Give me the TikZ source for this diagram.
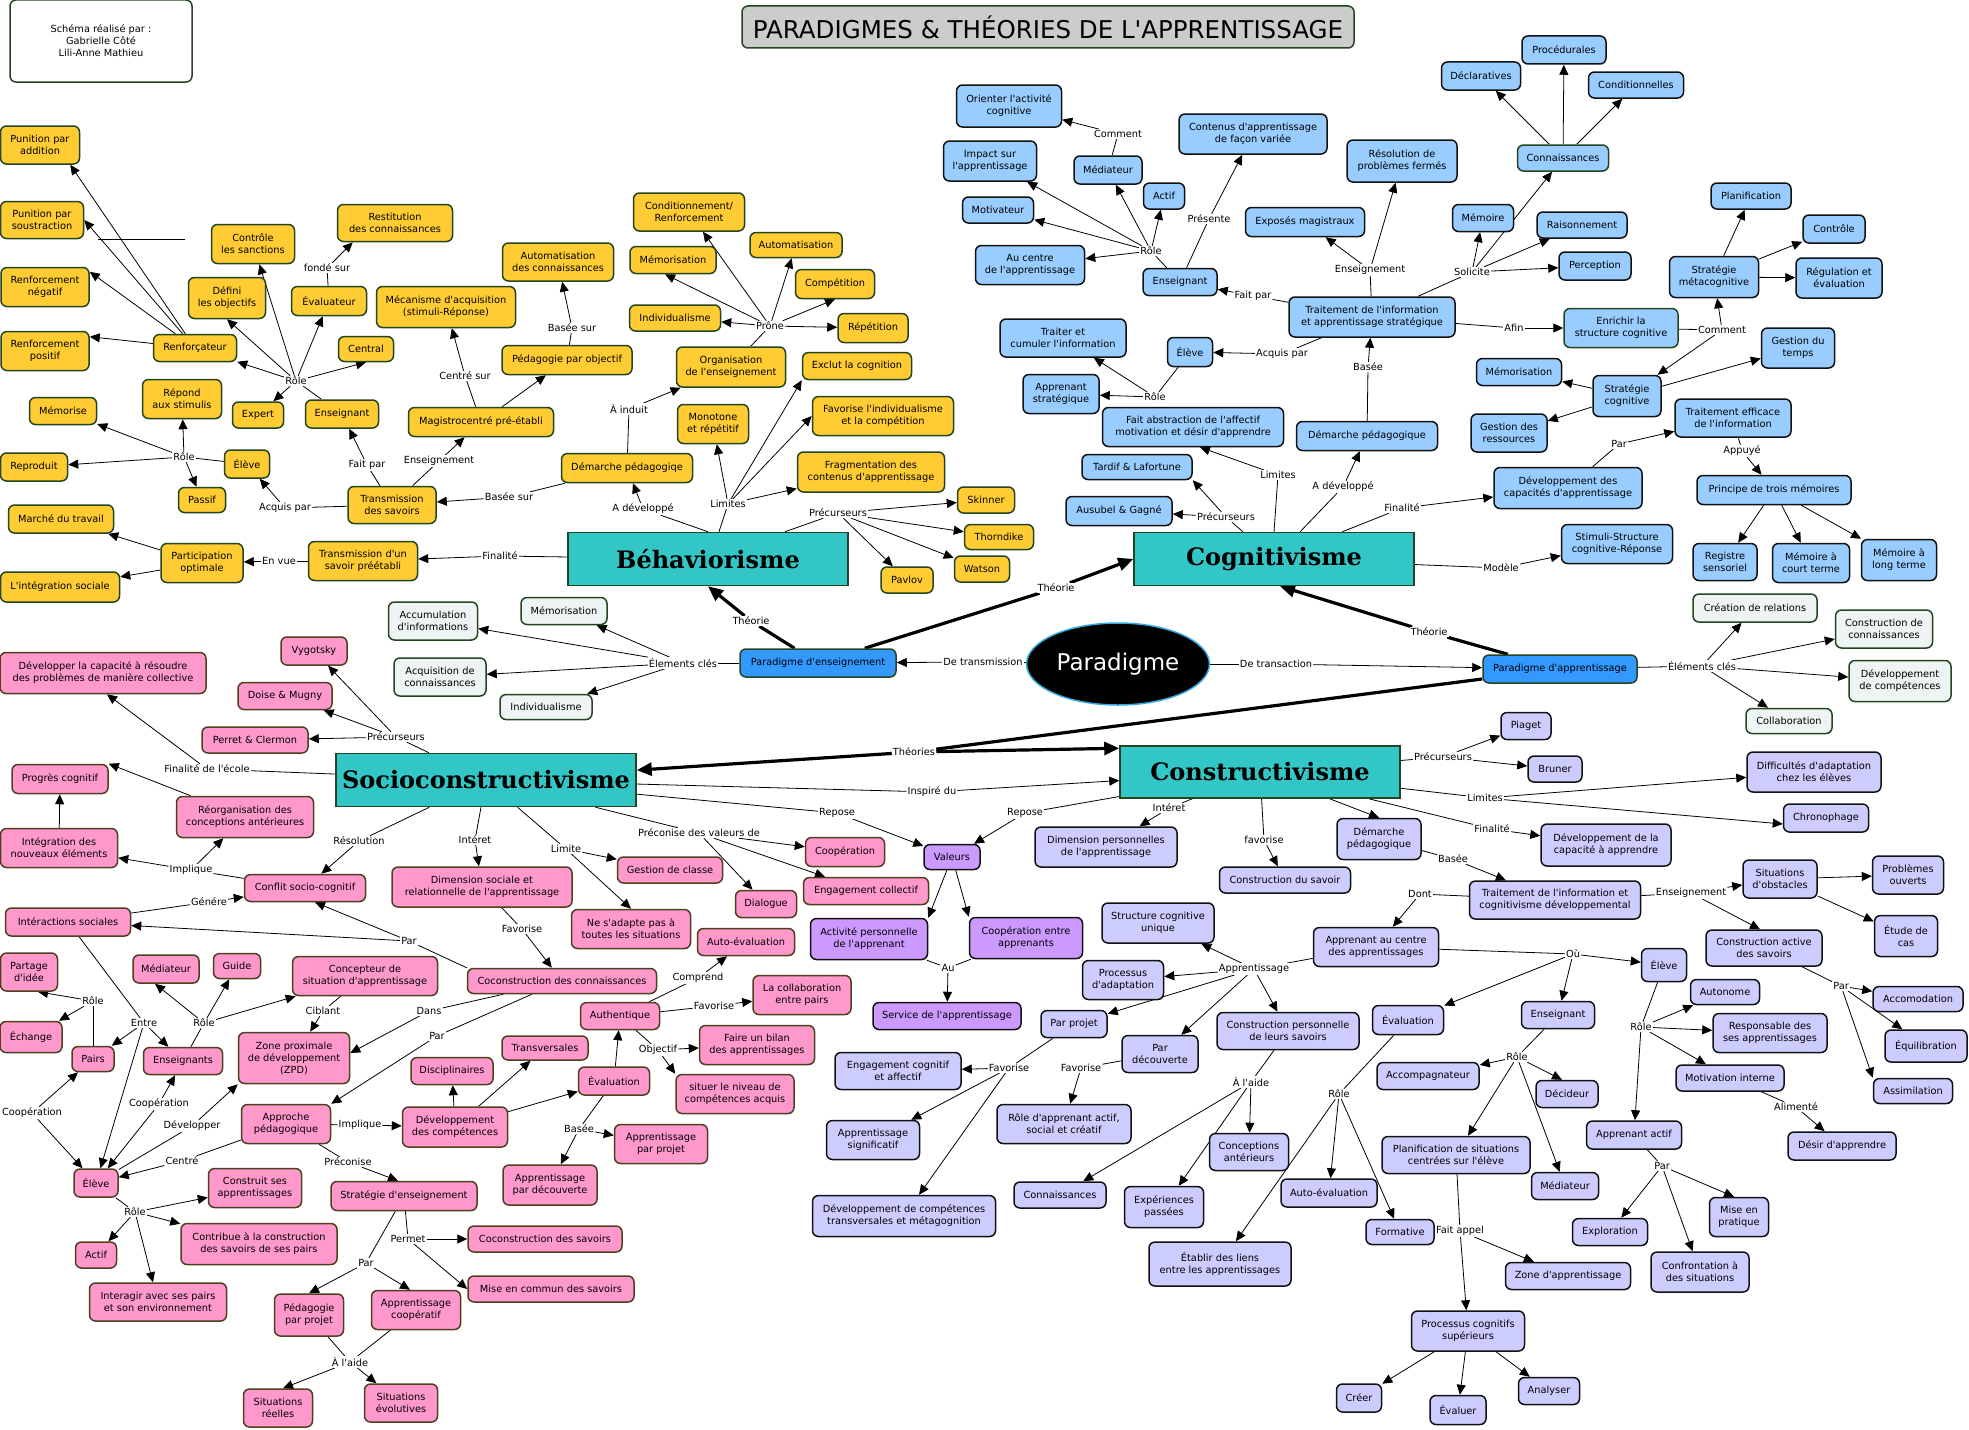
\documentclass[tikz,border=0pt]{standalone}
\usepackage{fontspec}
\usetikzlibrary{arrows.meta,shapes.geometric}
\newfontfamily\vf{DejaVu Sans}
\newfontfamily\hvy{DejaVu Serif}
\newcommand\nodefont{\vf\fontsize{9.8}{12}\selectfont}
\newcommand\bigtfont{\hvy\bfseries\fontsize{24}{27}\selectfont}
\newcommand\myL[2]{\draw[ln] (#1) -- (#2);}
\newcommand\myA[2]{\draw[ar] (#1) -- (#2);}
\pgfdeclarelayer{bglayer}
\pgfdeclarelayer{edgelayer}
\pgfsetlayers{bglayer,edgelayer,main}
\definecolor{yel}{HTML}{FFCC33}
\definecolor{blu}{HTML}{99CCFF}
\definecolor{pnk}{HTML}{FF99CC}
\definecolor{lav}{HTML}{CCCCFF}
\definecolor{pur}{HTML}{CC99FF}
\definecolor{keyc}{HTML}{EEF4F4}
\definecolor{tealc}{HTML}{33C6C6}
\definecolor{dg}{HTML}{234520}
\definecolor{brn}{HTML}{4F3F1F}
\definecolor{nb}{HTML}{111111}
\definecolor{pblue}{HTML}{3399FF}
\definecolor{ttlgray}{HTML}{CCCCCC}
\definecolor{cyanb}{HTML}{33AADD}
\tikzset{
 base/.style={draw, rounded corners=6pt, line width=1.5pt, align=center, inner xsep=3pt, inner ysep=2pt, font=\nodefont},
 Y/.style={base, fill=yel, draw=dg},
 B/.style={base, fill=blu, draw=nb},
 BG/.style={base, fill=blu, draw=dg},
 P/.style={base, fill=pnk, draw=brn},
 L/.style={base, fill=lav, draw=nb},
 V/.style={base, fill=pur, draw=nb},
 K/.style={base, fill=keyc, draw=dg},
 T/.style={draw=dg, fill=tealc, line width=1.5pt, font=\bigtfont, inner sep=0pt},
 PB/.style={base, fill=pblue, draw=dg},
 lb/.style={fill=white, inner sep=1pt, font=\nodefont},
 sz/.style 2 args={minimum width=#1pt, minimum height=#2pt},
 ln/.style={line width=0.8pt, draw=black},
 ar/.style={ln, -{Triangle[length=10pt,width=9pt]}},
 thk/.style={line width=3.2pt, draw=black},
 tar/.style={thk, -{Triangle[length=15pt,width=13pt]}},
}
\begin{document}
\begin{tikzpicture}[x=1pt,y=-1pt]
\useasboundingbox (0,0) rectangle (1969,1429);
\begin{pgfonlayer}{bglayer}
\fill[white] (0,0) rectangle (1969,1429);
\end{pgfonlayer}

% ---------- header
\node[draw=dg, fill=white, rounded corners=6pt, line width=1.5pt, sz={182}{82}, align=center, font=\nodefont] (credit) at (101,41) {Schéma réalisé par :\\Gabrielle Côté\\Lili-Anne Mathieu};
\node[draw=dg, fill=ttlgray, rounded corners=6pt, line width=1.5pt, sz={612}{42}, font=\vf\fontsize{24.5}{28}\selectfont] (title) at (1048,27) {PARADIGMES \& THÉORIES DE L'APPRENTISSAGE};

% ---------- Behaviorisme nodes
\node[Y,sz={79}{38}] (pad) at (40,145) {Punition par\\addition};
\node[Y,sz={83}{37}] (pso) at (42,220) {Punition par\\soustraction};
\node[Y,sz={88}{39}] (rneg) at (45,287) {Renforcement\\négatif};
\node[Y,sz={88}{39}] (rpos) at (45,351) {Renforcement\\positif};
\node[Y,sz={83}{27}] (renf) at (195,348) {Renforçateur};
\node[Y,sz={83}{39}] (ctrl) at (253,244) {Contrôle\\les sanctions};
\node[Y,sz={115}{37}] (rest) at (395,223) {Restitution\\des connaissances};
\node[Y,sz={77}{41}] (defi) at (227,298) {Défini\\les objectifs};
\node[Y,sz={75}{29}] (evalu) at (329,301) {Évaluateur};
\node[Y,sz={139}{41}] (meca) at (446,307) {Mécanisme d'acquisition\\(stimuli-Réponse)};
\node[Y,sz={55}{25}] (central) at (366,349) {Central};
\node[Y,sz={51}{26}] (expert) at (258,415) {Expert};
\node[Y,sz={73}{28}] (bens) at (342,414) {Enseignant};
\node[Y,sz={79}{39}] (repond) at (182,399) {Répond\\aux stimulis};
\node[Y,sz={67}{27}] (memor) at (63,411) {Mémorise};
\node[Y,sz={45}{28}] (belv) at (247,464) {Élève};
\node[Y,sz={67}{28}] (repro) at (34,467) {Reproduit};
\node[Y,sz={145}{29}] (magi) at (481,422) {Magistrocentré pré-établi};
\node[Y,sz={111}{38}] (cond) at (689,212) {Conditionnement/\\Renforcement};
\node[Y,sz={92}{25}] (auto) at (796,245) {Automatisation};
\node[Y,sz={86}{27}] (bmem) at (673,260) {Mémorisation};
\node[Y,sz={79}{29}] (compe) at (835,284) {Compétition};
\node[Y,sz={91}{26}] (bind) at (675,318) {Individualisme};
\node[Y,sz={70}{29}] (repe) at (873,328) {Répétition};
\node[Y,sz={111}{38}] (autoc) at (558,262) {Automatisation\\des connaissances};
\node[Y,sz={130}{29}] (pedo) at (567,360) {Pédagogie par objectif};
\node[Y,sz={109}{40}] (orga) at (731,367) {Organisation\\de l'enseignement};
\node[Y,sz={109}{27}] (excl) at (857,366) {Exclut la cognition};
\node[Y,sz={71}{39}] (mono) at (713,424) {Monotone\\et répétitif};
\node[Y,sz={141}{39}] (favi) at (883,416) {Favorise l'individualisme\\et la compétition};
\node[Y,sz={131}{29}] (bdem) at (627,468) {Démarche pédagogiqe};
\node[Y,sz={147}{40}] (frag) at (871,472) {Fragmentation des\\contenus d'apprentissage};
\node[Y,sz={47}{25}] (passif) at (202,500) {Passif};
\node[Y,sz={88}{37}] (tsav) at (392,505) {Transmission\\des savoirs};
\node[Y,sz={105}{28}] (marche) at (61,519) {Marché du travail};
\node[Y,sz={82}{39}] (parti) at (202,563) {Participation\\optimale};
\node[Y,sz={109}{39}] (tpre) at (363,561) {Transmission d'un\\savoir préétabli};
\node[Y,sz={119}{30}] (integ) at (60,587) {L'intégration sociale};
\node[Y,sz={57}{26}] (skinner) at (986,500) {Skinner};
\node[Y,sz={69}{25}] (thorn) at (999,537) {Thorndike};
\node[Y,sz={55}{26}] (watson) at (982,569) {Watson};
\node[Y,sz={52}{26}] (pavlov) at (907,580) {Pavlov};

% ---------- key elements
\node[K,sz={89}{38}] (accu) at (433,621) {Accumulation\\d'informations};
\node[K,sz={92}{38}] (acqc) at (440,677) {Acquisition de\\connaissances};
\node[K,sz={86}{27}] (kmem) at (564,611) {Mémorisation};
\node[K,sz={92}{25}] (kind) at (546,707) {Individualisme};
\node[K,sz={124}{28}] (crea) at (1755,608) {Création de relations};
\node[K,sz={97}{38}] (ccon) at (1884,629) {Construction de\\connaissances};
\node[K,sz={102}{41}] (dcomp) at (1900,681) {Développement\\de compétences};
\node[K,sz={86}{25}] (collab) at (1789,721) {Collaboration};

% ---------- main boxes
\node[T,sz={280}{53}] (beh) at (708,559) {Béhaviorisme};
\node[T,sz={280}{53}] (cog) at (1274,559) {Cognitivisme};
\node[T,sz={300}{53}] (soc) at (486,780) {Socioconstructivisme};
\node[T,sz={280}{52}] (cons) at (1260,772) {Constructivisme};
\node[PB,sz={156}{28}] (pe) at (818,663) {Paradigme d'enseignement};
\node[PB,sz={154}{28}] (pa) at (1560,669) {Paradigme d'apprentissage};
\node[ellipse, fill=black, draw=cyanb, line width=1.5pt, minimum width=161pt, minimum height=82pt, text=white, font=\vf\fontsize{23}{26}\selectfont] (para) at (1118,664) {Paradigme};

% ---------- Cognitivisme nodes
\node[B,sz={105}{42}] (orient) at (1009,106) {Orienter l'activité\\cognitive};
\node[B,sz={93}{40}] (impact) at (990,161) {Impact sur\\l'apprentissage};
\node[B,sz={68}{28}] (cmed) at (1108,170) {Médiateur};
\node[B,sz={41}{26}] (cactif) at (1164,196) {Actif};
\node[B,sz={71}{26}] (motiv) at (998,210) {Motivateur};
\node[B,sz={109}{39}] (aucentre) at (1030,265) {Au centre\\de l'apprentissage};
\node[B,sz={148}{40}] (conten) at (1253,134) {Contenus d'apprentissage\\de façon variée};
\node[B,sz={74}{27}] (cens) at (1180,282) {Enseignant};
\node[B,sz={119}{29}] (expo) at (1305,222) {Exposés magistraux};
\node[B,sz={110}{42}] (reso) at (1402,161) {Résolution de\\problèmes fermés};
\node[B,sz={166}{40}] (trait) at (1372,317) {Traitement de l'information\\et apprentissage stratégique};
\node[B,sz={61}{27}] (memoire) at (1483,218) {Mémoire};
\node[B,sz={126}{38}] (traiter) at (1063,338) {Traiter et\\cumuler l'information};
\node[B,sz={45}{29}] (celv) at (1190,352) {Élève};
\node[B,sz={76}{39}] (appst) at (1061,394) {Apprenant\\stratégique};
\node[B,sz={181}{39}] (abst) at (1193,427) {Fait abstraction de l'affectif\\motivation et désir d'apprendre};
\node[B,sz={141}{29}] (cdem) at (1367,436) {Démarche pédagogique};
\node[B,sz={110}{25}] (tardif) at (1137,467) {Tardif \& Lafortune};
\node[B,sz={106}{29}] (ausu) at (1119,511) {Ausubel \& Gagné};
\node[B,sz={79}{28}] (decl) at (1481,76) {Déclaratives};
\node[B,sz={84}{28}] (proc) at (1564,50) {Procédurales};
\node[B,sz={95}{26}] (condi) at (1636,85) {Conditionnelles};
\node[BG,sz={91}{26}] (connais) at (1563,158) {Connaissances};
\node[B,sz={90}{26}] (raison) at (1582,225) {Raisonnement};
\node[B,sz={72}{28}] (percep) at (1595,266) {Perception};
\node[B,sz={80}{26}] (planif) at (1751,196) {Planification};
\node[B,sz={62}{28}] (controle) at (1834,229) {Contrôle};
\node[B,sz={89}{41}] (meta) at (1714,277) {Stratégie\\métacognitive};
\node[B,sz={86}{40}] (regul) at (1839,278) {Régulation et\\évaluation};
\node[BG,sz={114}{39}] (enrich) at (1621,328) {Enrichir la\\structure cognitive};
\node[B,sz={73}{40}] (gtemps) at (1798,348) {Gestion du\\temps};
\node[B,sz={85}{27}] (cmemo) at (1519,372) {Mémorisation};
\node[B,sz={68}{41}] (scog) at (1627,396) {Stratégie\\cognitive};
\node[B,sz={76}{38}] (gress) at (1509,433) {Gestion des\\ressources};
\node[B,sz={116}{38}] (teff) at (1733,418) {Traitement efficace\\de l'information};
\node[B,sz={148}{41}] (dcap) at (1568,488) {Développement des\\capacités d'apprentissage};
\node[B,sz={154}{29}] (princ) at (1774,490) {Principe de trois mémoires};
\node[B,sz={111}{39}] (stim) at (1617,544) {Stimuli-Structure\\cognitive-Réponse};
\node[B,sz={64}{37}] (regis) at (1725,562) {Registre\\sensoriel};
\node[B,sz={77}{39}] (mct) at (1811,563) {Mémoire à\\court terme};
\node[B,sz={75}{41}] (mlt) at (1899,560) {Mémoire à\\long terme};

% ---------- Socioconstructivisme nodes
\node[P,sz={66}{28}] (vygo) at (314,651) {Vygotsky};
\node[P,sz={206}{41}] (devcap) at (103,673) {Développer la capacité à résoudre\\des problèmes de manière collective};
\node[P,sz={94}{27}] (doise) at (285,696) {Doise \& Mugny};
\node[P,sz={106}{26}] (perret) at (255,740) {Perret \& Clermon};
\node[P,sz={96}{29}] (progres) at (60,779) {Progrès cognitif};
\node[P,sz={137}{41}] (reorg) at (245,817) {Réorganisation des\\conceptions antérieures};
\node[P,sz={117}{39}] (integn) at (59,848) {Intégration des\\nouveaux éléments};
\node[P,sz={121}{27}] (conflit) at (305,888) {Conflit socio-cognitif};
\node[P,sz={180}{40}] (dimsoc) at (482,887) {Dimension sociale et\\relationnelle de l'apprentissage};
\node[P,sz={125}{28}] (interac) at (68,922) {Intéractions sociales};
\node[P,sz={79}{29}] (scoop) at (845,852) {Coopération};
\node[P,sz={105}{26}] (gestc) at (670,870) {Gestion de classe};
\node[P,sz={125}{27}] (engc) at (866,891) {Engagement collectif};
\node[P,sz={61}{27}] (dialog) at (766,904) {Dialogue};
\node[P,sz={119}{39}] (nesad) at (631,929) {Ne s'adapte pas à\\toutes les situations};
\node[P,sz={97}{27}] (sautoe) at (746,942) {Auto-évaluation};
\node[P,sz={189}{25}] (coconn) at (562,981) {Coconstruction des connaissances};
\node[P,sz={57}{38}] (partage) at (29,972) {Partage\\d'idée};
\node[P,sz={66}{28}] (smed) at (166,969) {Médiateur};
\node[P,sz={47}{25}] (guide) at (237,966) {Guide};
\node[P,sz={145}{39}] (concep) at (365,976) {Concepteur de\\situation d'apprentissage};
\node[P,sz={62}{31}] (echange) at (31,1037) {Échange};
\node[P,sz={42}{25}] (pairs) at (93,1059) {Pairs};
\node[P,sz={79}{27}] (enseignants) at (183,1061) {Enseignants};
\node[P,sz={111}{51}] (zpd) at (294,1058) {Zone proximale\\de développement\\(ZPD)};
\node[P,sz={82}{27}] (discip) at (452,1071) {Disciplinaires};
\node[P,sz={86}{24}] (transv) at (545,1048) {Transversales};
\node[P,sz={89}{39}] (approche) at (286,1124) {Approche\\pédagogique};
\node[P,sz={105}{40}] (devcomp) at (455,1127) {Développement\\des compétences};
\node[P,sz={71}{28}] (seval) at (614,1081) {Évaluation};
\node[P,sz={79}{27}] (authen) at (620,1016) {Authentique};
\node[P,sz={44}{28}] (selv) at (96,1183) {Élève};
\node[P,sz={93}{39}] (construit) at (255,1188) {Construit ses\\apprentissages};
\node[P,sz={146}{29}] (strat) at (404,1196) {Stratégie d'enseignement};
\node[P,sz={41}{26}] (sactif) at (96,1255) {Actif};
\node[P,sz={156}{41}] (contrib) at (259,1244) {Contribue à la construction\\des savoirs de ses pairs};
\node[P,sz={154}{26}] (cosav) at (545,1239) {Coconstruction des savoirs};
\node[P,sz={166}{26}] (misec) at (551,1289) {Mise en commun des savoirs};
\node[P,sz={137}{38}] (interag) at (158,1302) {Interagir avec ses pairs\\et son environnement};
\node[P,sz={69}{42}] (pedproj) at (309,1315) {Pédagogie\\par projet};
\node[P,sz={89}{39}] (appcoop) at (416,1310) {Apprentissage\\coopératif};
\node[P,sz={69}{38}] (sitre) at (278,1408) {Situations\\réelles};
\node[P,sz={73}{38}] (sitevo) at (401,1403) {Situations\\évolutives};
\node[P,sz={98}{39}] (collabp) at (802,995) {La collaboration\\entre pairs};
\node[P,sz={115}{39}] (bilan) at (757,1045) {Faire un bilan\\des apprentissages};
\node[P,sz={118}{39}] (situer) at (735,1094) {situer le niveau de\\compétences acquis};
\node[P,sz={93}{39}] (appproj) at (661,1144) {Apprentissage\\par projet};
\node[P,sz={94}{40}] (appdec) at (550,1185) {Apprentissage\\par découverte};

% ---------- values (purple)
\node[V,sz={56}{25}] (valeurs) at (952,857) {Valeurs};
\node[V,sz={117}{41}] (activ) at (869,939) {Activité personnelle\\de l'apprenant};
\node[V,sz={113}{41}] (coopa) at (1026,938) {Coopération entre\\apprenants};
\node[V,sz={148}{27}] (service) at (947,1016) {Service de l'apprentissage};

% ---------- Constructivisme nodes
\node[L,sz={50}{27}] (piaget) at (1526,726) {Piaget};
\node[L,sz={54}{26}] (bruner) at (1555,769) {Bruner};
\node[L,sz={134}{40}] (diffi) at (1814,772) {Difficultés d'adaptation\\chez les élèves};
\node[L,sz={85}{28}] (chrono) at (1826,818) {Chronophage};
\node[L,sz={130}{42}] (devapp) at (1606,845) {Développement de la\\capacité à apprendre};
\node[L,sz={142}{40}] (dimper) at (1106,847) {Dimension personnelles\\de l'apprentissage};
\node[L,sz={84}{41}] (ldem) at (1379,839) {Démarche\\pédagogique};
\node[L,sz={131}{26}] (consav) at (1285,880) {Construction du savoir};
\node[L,sz={171}{38}] (traitcd) at (1555,900) {Traitement de l'information et\\cognitivisme développemental};
\node[L,sz={74}{38}] (sitob) at (1780,879) {Situations\\d'obstacles};
\node[L,sz={71}{38}] (probo) at (1908,875) {Problèmes\\ouverts};
\node[L,sz={63}{41}] (etude) at (1906,936) {Étude de\\cas};
\node[L,sz={116}{36}] (consact) at (1764,948) {Construction active\\des savoirs};
\node[L,sz={112}{40}] (struct) at (1158,923) {Structure cognitive\\unique};
\node[L,sz={125}{39}] (appcen) at (1376,947) {Apprenant au centre\\des apprentissages};
\node[L,sz={81}{39}] (procad) at (1123,980) {Processus\\d'adaptation};
\node[L,sz={66}{27}] (parproj) at (1074,1024) {Par projet};
\node[L,sz={76}{37}] (pardec) at (1160,1054) {Par\\découverte};
\node[L,sz={142}{37}] (conspers) at (1288,1031) {Construction personnelle\\de leurs savoirs};
\node[L,sz={71}{29}] (leval) at (1408,1020) {Évaluation};
\node[L,sz={126}{37}] (engcog) at (898,1071) {Engagement cognitif\\et affectif};
\node[L,sz={93}{39}] (appsig) at (873,1140) {Apprentissage\\significatif};
\node[L,sz={183}{41}] (devtrans) at (904,1216) {Développement de compétences\\transversales et métagognition};
\node[L,sz={134}{39}] (roleapp) at (1064,1124) {Rôle d'apprenant actif,\\social et créatif};
\node[L,sz={102}{27}] (accomp) at (1428,1076) {Accompagnateur};
\node[L,sz={79}{37}] (concant) at (1249,1152) {Conceptions\\antérieurs};
\node[L,sz={92}{26}] (lconn) at (1060,1195) {Connaissances};
\node[L,sz={79}{41}] (exper) at (1164,1207) {Expériences\\passées};
\node[L,sz={96}{28}] (lautoe) at (1329,1193) {Auto-évaluation};
\node[L,sz={68}{25}] (format) at (1400,1232) {Formative};
\node[L,sz={142}{44}] (etabl) at (1220,1264) {Établir des liens\\entre les apprentissages};
\node[L,sz={148}{37}] (planis) at (1456,1155) {Planification de situations\\centrées sur l'élève};
\node[L,sz={113}{40}] (procog) at (1468,1331) {Processus cognitifs\\supérieurs};
\node[L,sz={45}{28}] (creer) at (1359,1398) {Créer};
\node[L,sz={56}{29}] (evaluer) at (1458,1410) {Évaluer};
\node[L,sz={61}{27}] (analy) at (1549,1391) {Analyser};
\node[L,sz={45}{33}] (lelv) at (1664,965) {Élève};
\node[L,sz={69}{25}] (autonome) at (1725,992) {Autonome};
\node[L,sz={90}{25}] (accomo) at (1918,999) {Accomodation};
\node[L,sz={73}{27}] (lens) at (1558,1015) {Enseignant};
\node[L,sz={114}{39}] (respo) at (1770,1033) {Responsable des\\ses apprentissages};
\node[L,sz={82}{32}] (equil) at (1926,1046) {Équilibration};
\node[L,sz={108}{26}] (motint) at (1730,1078) {Motivation interne};
\node[L,sz={62}{27}] (decid) at (1567,1094) {Décideur};
\node[L,sz={79}{25}] (assim) at (1913,1091) {Assimilation};
\node[L,sz={95}{28}] (appact) at (1634,1135) {Apprenant actif};
\node[L,sz={108}{28}] (desir) at (1842,1146) {Désir d'apprendre};
\node[L,sz={67}{27}] (lmed) at (1565,1186) {Médiateur};
\node[L,sz={75}{27}] (explo) at (1610,1232) {Exploration};
\node[L,sz={59}{39}] (misep) at (1739,1217) {Mise en\\pratique};
\node[L,sz={125}{27}] (zoneapp) at (1568,1276) {Zone d'apprentissage};
\node[L,sz={98}{40}] (confr) at (1700,1272) {Confrontation à\\des situations};

% ---------- link labels
\node[lb] (Lfonde) at (327,268) {fondé sur};
\node[lb] (Lrole1) at (296,381) {Rôle};
\node[lb] (Lcentre) at (465,376) {Centré sur};
\node[lb] (Lrole2) at (184,457) {Rôle};
\node[lb] (Lfaitpar1) at (367,465) {Fait par};
\node[lb] (Lens1) at (439,461) {Enseignement};
\node[lb] (Lacq1) at (285,508) {Acquis par};
\node[lb] (Lbasee1) at (509,497) {Basée sur};
\node[lb] (Lenvue) at (279,561) {En vue};
\node[lb] (Lfin1) at (500,556) {Finalité};
\node[lb] (Lbasee2) at (572,328) {Basée sur};
\node[lb] (Lprone) at (770,326) {Prône};
\node[lb] (Linduit) at (629,409) {À induit};
\node[lb] (Ladev1) at (643,509) {A développé};
\node[lb] (Llim1) at (728,504) {Limites};
\node[lb] (Lprec1) at (838,513) {Précurseurs};
\node[lb] (Ltheo1) at (751,621) {Théorie};
\node[lb] (Lelem1) at (683,663) {Élements clés};
\node[lb] (Ldetrm) at (983,662) {De transmission};
\node[lb] (Ltheo2) at (1056,588) {Théorie};
\node[lb] (Ldetrc) at (1276,664) {De transaction};
\node[lb] (Ltheo3) at (1429,632) {Théorie};
\node[lb] (Ltheos) at (914,752) {Théories};
\node[lb] (Lelem2) at (1702,666) {Éléments clés};
\node[lb] (Lcomment1) at (1118,134) {Comment};
\node[lb] (Lrole3) at (1151,251) {Rôle};
\node[lb] (Lpres) at (1209,219) {Présente};
\node[lb] (Lens2) at (1370,270) {Enseignement};
\node[lb] (Lfaitpar2) at (1253,296) {Fait par};
\node[lb] (Lsolli) at (1472,272) {Solicite};
\node[lb] (Lacq2) at (1282,354) {Acquis par};
\node[lb] (Lrole4) at (1155,397) {Rôle};
\node[lb] (Lbasee3) at (1368,367) {Basée};
\node[lb] (Llim2) at (1278,475) {Limites};
\node[lb] (Lprec2) at (1226,517) {Précurseurs};
\node[lb] (Ladev2) at (1343,487) {A développé};
\node[lb] (Lfin2) at (1402,508) {Finalité};
\node[lb] (Lmodele) at (1501,568) {Modèle};
\node[lb] (Lafin) at (1514,328) {Afin};
\node[lb] (Lcomment2) at (1722,330) {Comment};
\node[lb] (Lpar1) at (1619,444) {Par};
\node[lb] (Lappuye) at (1742,451) {Appuyé};
\node[lb] (Lprec3) at (396,737) {Précurseurs};
\node[lb] (Lfinecole) at (207,769) {Finalité de l'école};
\node[lb] (Lresol) at (359,841) {Résolution};
\node[lb] (Linter1) at (475,840) {Intéret};
\node[lb] (Limpl1) at (191,870) {Implique};
\node[lb] (Lgenere) at (209,902) {Génére};
\node[lb] (Lpar2) at (409,941) {Par};
\node[lb] (Llimite) at (566,849) {Limite};
\node[lb] (Lprecon) at (699,833) {Préconise des valeurs de};
\node[lb] (Lrepose1) at (837,813) {Repose};
\node[lb] (Linspire) at (932,792) {Inspiré du};
\node[lb] (Lfavo1) at (522,929) {Favorise};
\node[lb] (Lrolep) at (93,1001) {Rôle};
\node[lb] (Lentre) at (144,1023) {Entre};
\node[lb] (Lrolee) at (204,1023) {Rôle};
\node[lb] (Lciblant) at (323,1011) {Ciblant};
\node[lb] (Ldans) at (429,1011) {Dans};
\node[lb] (Lpar3) at (437,1036) {Par};
\node[lb] (Lcoop1) at (32,1113) {Coopération};
\node[lb] (Lcoop2) at (159,1104) {Coopération};
\node[lb] (Ldevel) at (192,1126) {Développer};
\node[lb] (Limpl2) at (360,1125) {Implique};
\node[lb] (Lcentre2) at (182,1161) {Centré};
\node[lb] (Lprecon2) at (348,1162) {Préconise};
\node[lb] (Lroles) at (135,1212) {Rôle};
\node[lb] (Lpermet) at (408,1239) {Permet};
\node[lb] (Lpar4) at (366,1263) {Par};
\node[lb] (Lalaide1) at (350,1362) {À l'aide};
\node[lb] (Lcompr) at (698,978) {Comprend};
\node[lb] (Lfavo2) at (714,1006) {Favorise};
\node[lb] (Lobjec) at (658,1050) {Objectif};
\node[lb] (Lbasee4) at (579,1129) {Basée};
\node[lb] (Lau) at (948,968) {Au};
\node[lb] (Lrepose2) at (1025,813) {Repose};
\node[lb] (Linter2) at (1169,808) {Intéret};
\node[lb] (Lfavo3) at (1264,840) {favorise};
\node[lb] (Lprec4) at (1443,757) {Précurseurs};
\node[lb] (Llim3) at (1485,798) {Limites};
\node[lb] (Lfin3) at (1492,829) {Finalité};
\node[lb] (Lbasee5) at (1453,859) {Basée};
\node[lb] (Ldont) at (1420,894) {Dont};
\node[lb] (Lens3) at (1691,893) {Enseignement};
\node[lb] (Lparca) at (1841,986) {Par};
\node[lb] (Lapprent) at (1254,969) {Apprentissage};
\node[lb] (Lou) at (1573,954) {Où};
\node[lb] (Lfavo4) at (1009,1068) {Favorise};
\node[lb] (Lfavo5) at (1081,1068) {Favorise};
\node[lb] (Lalaide2) at (1251,1082) {À l'aide};
\node[lb] (Lrolev) at (1339,1094) {Rôle};
\node[lb] (Lrolen) at (1517,1057) {Rôle};
\node[lb] (Lrolel) at (1641,1027) {Rôle};
\node[lb] (Lalim) at (1796,1107) {Alimenté};
\node[lb] (Lparac) at (1662,1166) {Par};
\node[lb] (Lfaitapp) at (1460,1231) {Fait appel};

\coordinate (strayA) at (98,239);
\coordinate (strayB) at (185,239);

% ================= connectors
\begin{pgfonlayer}{edgelayer}
\draw[ln] (strayA) -- (strayB);
% Behaviorisme
\myL{bens}{Lrole1}
\myA{Lrole1}{renf}
\myA{Lrole1}{defi.south}
\myA{Lrole1}{ctrl}
\myA{Lrole1}{evalu}
\myA{Lrole1}{central.south}
\myA{Lrole1}{expert}
\myL{evalu}{Lfonde}
\myA{Lfonde}{[xshift=16pt]rest.south west}
\myA{renf}{[xshift=-10pt]pad.south east}
\myA{renf}{pso.east}
\myA{renf}{[yshift=-5pt]rneg.north east}
\myA{renf}{[yshift=-6pt]rpos.north east}
\myL{belv}{Lrole2}
\myA{Lrole2}{repond}
\myA{Lrole2}{memor}
\myA{Lrole2}{repro}
\myA{Lrole2}{passif}
\myL{tsav}{Lacq1}
\myA{Lacq1}{belv}
\myL{tsav}{Lfaitpar1}
\myA{Lfaitpar1}{bens}
\myL{tsav}{Lens1}
\myA{Lens1}{magi}
\myL{magi}{Lcentre}
\myA{Lcentre}{meca}
\myA{magi}{pedo}
\myL{pedo}{Lbasee2}
\myA{Lbasee2}{autoc}
\myL{bdem}{Lbasee1}
\myA{Lbasee1}{tsav}
\myL{bdem}{Linduit}
\myA{Linduit}{orga}
\myL{orga}{Lprone}
\myA{Lprone}{cond}
\myA{Lprone}{auto}
\myA{Lprone}{[xshift=-8pt]bmem.south}
\myA{Lprone}{compe.south}
\myA{Lprone}{bind}
\myA{Lprone}{repe}
\myL{[xshift=11pt]beh.north}{Llim1}
\myA{Llim1}{mono}
\myA{Llim1}{excl.south west}
\myA{Llim1}{favi.west}
\myA{Llim1}{frag}
\myL{beh.north}{Ladev1}
\myA{Ladev1}{bdem}
\myL{beh}{Lprec1}
\myA{Lprec1}{skinner}
\myA{Lprec1}{thorn}
\myA{Lprec1}{watson}
\myA{Lprec1}{pavlov}
\myL{beh}{Lfin1}
\myA{Lfin1}{tpre}
\myL{tpre}{Lenvue}
\myA{Lenvue}{parti}
\myA{parti}{marche}
\myA{parti}{integ}
% centre
\myL{para}{Ldetrm}
\myA{Ldetrm}{pe}
\myL{para}{Ldetrc}
\myA{Ldetrc}{pa}
\draw[thk] (pe) -- (Ltheo1);
\draw[tar] (Ltheo1) -- (beh.south);
\draw[thk] (pe) -- (Ltheo2);
\draw[tar] (Ltheo2) -- (cog.west);
\draw[thk] (pa) -- (Ltheo3);
\draw[tar] (Ltheo3) -- ([xshift=6pt]cog.south);
\draw[thk] (pa) -- (Ltheos);
\draw[tar] (Ltheos) -- (soc);
\draw[tar] (Ltheos) -- ([yshift=-3pt]cons.north west);
\myL{pe}{Lelem1}
\myA{Lelem1}{kmem}
\myA{Lelem1}{accu}
\myA{Lelem1}{acqc}
\myA{Lelem1}{kind}
\myL{pa}{Lelem2}
\myA{Lelem2}{crea}
\myA{Lelem2}{ccon}
\myA{Lelem2}{dcomp}
\myA{Lelem2}{collab}
% Cognitivisme
\myL{cog}{Lprec2}
\myA{Lprec2}{ausu}
\myA{Lprec2}{tardif.south east}
\myL{cog.north}{Llim2}
\myA{Llim2}{[xshift=7pt]abst.south}
\myL{cog}{Ladev2}
\myA{Ladev2}{cdem}
\myL{cog}{Lfin2}
\myA{Lfin2}{dcap}
\myL{cog}{Lmodele}
\myA{Lmodele}{stim}
\myL{cdem}{Lbasee3}
\myA{Lbasee3}{trait}
\myL{trait}{Lfaitpar2}
\myA{Lfaitpar2}{cens}
\myL{trait}{Lacq2}
\myA{Lacq2}{celv}
\myL{trait}{Lens2}
\myA{Lens2}{expo}
\myA{Lens2}{reso}
\myL{trait}{Lsolli}
\myA{Lsolli}{memoire}
\myA{Lsolli}{connais}
\myA{Lsolli}{raison}
\myA{Lsolli}{percep}
\myA{connais}{decl}
\myA{connais}{proc}
\myA{connais}{condi}
\myL{trait}{Lafin}
\myA{Lafin}{enrich}
\myL{enrich}{Lcomment2}
\myA{Lcomment2}{meta}
\myA{Lcomment2}{scog}
\myA{meta}{planif}
\myA{meta}{controle}
\myA{meta}{regul}
\myA{scog}{cmemo}
\myA{scog}{gress}
\myA{scog}{gtemps}
\myL{dcap}{Lpar1}
\myA{Lpar1}{teff}
\myL{teff}{Lappuye}
\myA{Lappuye}{princ}
\myA{princ}{regis}
\myA{princ}{mct}
\myA{princ}{mlt}
\myL{cens}{Lrole3}
\myA{Lrole3}{cmed}
\myA{Lrole3}{cactif}
\myA{Lrole3}{impact}
\myA{Lrole3}{motiv}
\myA{Lrole3}{aucentre}
\myL{cmed}{Lcomment1}
\myA{Lcomment1}{orient}
\myL{cens}{Lpres}
\myA{Lpres}{conten}
\myL{celv}{Lrole4}
\myA{Lrole4}{traiter}
\myA{Lrole4}{appst}
% Socioconstructivisme
\myL{soc}{Lprec3}
\myA{Lprec3}{vygo}
\myA{Lprec3}{doise}
\myA{Lprec3}{perret}
\myL{soc}{Lfinecole}
\myA{Lfinecole}{[xshift=4pt]devcap.south}
\myL{soc}{Lresol}
\myA{Lresol}{conflit}
\myL{soc}{Linter1}
\myA{Linter1}{dimsoc}
\myL{soc}{Llimite}
\myA{Llimite}{gestc}
\myA{Llimite}{nesad.north}
\myL{soc}{Lprecon}
\myA{Lprecon}{scoop}
\myA{Lprecon}{dialog}
\myA{Lprecon}{engc}
\myL{soc}{Lrepose1}
\myA{Lrepose1}{valeurs}
\myL{soc}{Linspire}
\myA{Linspire}{cons}
\myL{cons}{Lrepose2}
\myA{Lrepose2}{valeurs}
\myL{conflit}{Limpl1}
\myA{Limpl1}{integn}
\myA{Limpl1}{reorg}
\myA{integn}{progres}
\myA{reorg}{progres.north east}
\myL{interac}{Lgenere}
\myA{Lgenere}{conflit}
\myL{coconn.north west}{Lpar2}
\myA{Lpar2}{[xshift=10pt]conflit.south}
\myA{Lpar2}{interac}
\myL{dimsoc}{Lfavo1}
\myA{Lfavo1}{coconn}
\myL{coconn}{Ldans}
\myA{Ldans}{[yshift=5pt]zpd.east}
\myL{coconn}{Lpar3}
\myA{Lpar3}{approche.north east}
\myL{interac}{Lentre}
\myA{Lentre}{pairs}
\myA{Lentre}{enseignants}
\myA{Lentre}{selv}
\myL{pairs}{Lrolep}
\myA{Lrolep}{[xshift=9pt]partage.south}
\myA{Lrolep}{echange}
\myL{enseignants}{Lrolee}
\myA{Lrolee}{[xshift=-11pt]smed.south}
\myA{Lrolee}{guide}
\myA{Lrolee}{concep}
\myL{concep}{Lciblant}
\myA{Lciblant}{zpd}
\myA{Lcoop1}{pairs}
\myA{Lcoop1}{selv}
\myA{Lcoop2}{enseignants}
\myA{Lcoop2}{selv}
\myL{selv}{Ldevel}
\myA{Ldevel}{zpd.south west}
\myL{approche}{Lcentre2}
\myA{Lcentre2}{selv}
\myL{approche}{Limpl2}
\myA{Limpl2}{devcomp}
\myL{approche}{Lprecon2}
\myA{Lprecon2}{[xshift=-6pt]strat.north}
\myA{devcomp}{discip}
\myA{devcomp}{transv}
\myA{devcomp}{seval}
\myA{seval}{authen}
\myL{authen}{Lcompr}
\myA{Lcompr}{sautoe}
\myL{authen}{Lfavo2}
\myA{Lfavo2}{collabp}
\myL{authen}{Lobjec}
\myA{Lobjec}{bilan}
\myA{Lobjec}{situer.north west}
\myL{seval}{Lbasee4}
\myA{Lbasee4}{appproj}
\myA{Lbasee4}{appdec}
\myL{selv}{Lroles}
\myA{Lroles}{construit}
\myA{Lroles}{contrib}
\myA{Lroles}{sactif}
\myA{Lroles}{interag}
\myL{strat}{Lpermet}
\myA{Lpermet}{cosav}
\myA{Lpermet}{misec.west}
\myL{strat}{Lpar4}
\myA{Lpar4}{pedproj.north}
\myA{Lpar4}{[xshift=-6pt]appcoop.north}
\myL{pedproj}{Lalaide1}
\myL{appcoop}{Lalaide1}
\myA{Lalaide1}{[xshift=5pt]sitre.north}
\myA{Lalaide1}{sitevo}
\myA{valeurs}{activ.north east}
\myA{valeurs}{coopa.north west}
\myL{activ}{Lau}
\myL{coopa}{Lau}
\myA{Lau}{service}
% Constructivisme
\myL{cons}{Lprec4}
\myA{Lprec4}{piaget}
\myA{Lprec4}{bruner}
\myL{cons}{Llim3}
\myA{Llim3}{diffi}
\myA{Llim3}{[yshift=-6pt]chrono.west}
\myL{cons}{Lfin3}
\myA{Lfin3}{devapp}
\myL{cons}{Linter2}
\myA{Linter2}{dimper}
\myL{cons}{Lfavo3}
\myA{Lfavo3}{consav}
\myA{cons}{ldem.north}
\myL{ldem}{Lbasee5}
\myA{Lbasee5}{traitcd}
\myL{traitcd}{Ldont}
\myA{Ldont}{appcen}
\myL{traitcd}{Lens3}
\myA{Lens3}{sitob}
\myA{Lens3}{[xshift=-4pt]consact.north}
\myA{sitob}{probo}
\myA{sitob}{etude}
\myL{consact}{Lparca}
\myA{Lparca}{accomo}
\myA{Lparca}{equil}
\myA{Lparca}{assim.north west}
\myL{appcen}{Lapprent}
\myA{Lapprent}{struct}
\myA{Lapprent}{procad}
\myA{Lapprent}{parproj}
\myA{Lapprent}{pardec}
\myA{Lapprent}{conspers}
\myL{appcen}{Lou}
\myA{Lou}{lelv}
\myA{Lou}{lens}
\myA{Lou}{leval}
\myL{parproj}{Lfavo4}
\myA{Lfavo4}{engcog}
\myA{Lfavo4}{appsig}
\myA{Lfavo4}{devtrans}
\myL{pardec}{Lfavo5}
\myA{Lfavo5}{roleapp}
\myL{conspers}{Lalaide2}
\myA{Lalaide2}{concant}
\myA{Lalaide2}{lconn}
\myA{Lalaide2}{exper}
\myL{leval}{Lrolev}
\myA{Lrolev}{etabl}
\myA{Lrolev}{lautoe}
\myA{Lrolev}{format}
\myL{lens}{Lrolen}
\myA{Lrolen}{accomp}
\myA{Lrolen}{[xshift=-5pt]decid.north}
\myA{Lrolen}{lmed}
\myA{Lrolen}{planis}
\myL{lelv}{Lrolel}
\myA{Lrolel}{autonome}
\myA{Lrolel}{respo}
\myA{Lrolel}{motint}
\myA{Lrolel}{appact}
\myL{motint}{Lalim}
\myA{Lalim}{desir}
\myL{appact}{Lparac}
\myA{Lparac}{explo}
\myA{Lparac}{[xshift=-5pt]misep.north}
\myA{Lparac}{confr}
\myL{planis}{Lfaitapp}
\myA{Lfaitapp}{procog}
\myA{Lfaitapp}{zoneapp}
\myA{procog}{creer}
\myA{procog}{evaluer}
\myA{procog}{analy}
\end{pgfonlayer}
\end{tikzpicture}
\end{document}
